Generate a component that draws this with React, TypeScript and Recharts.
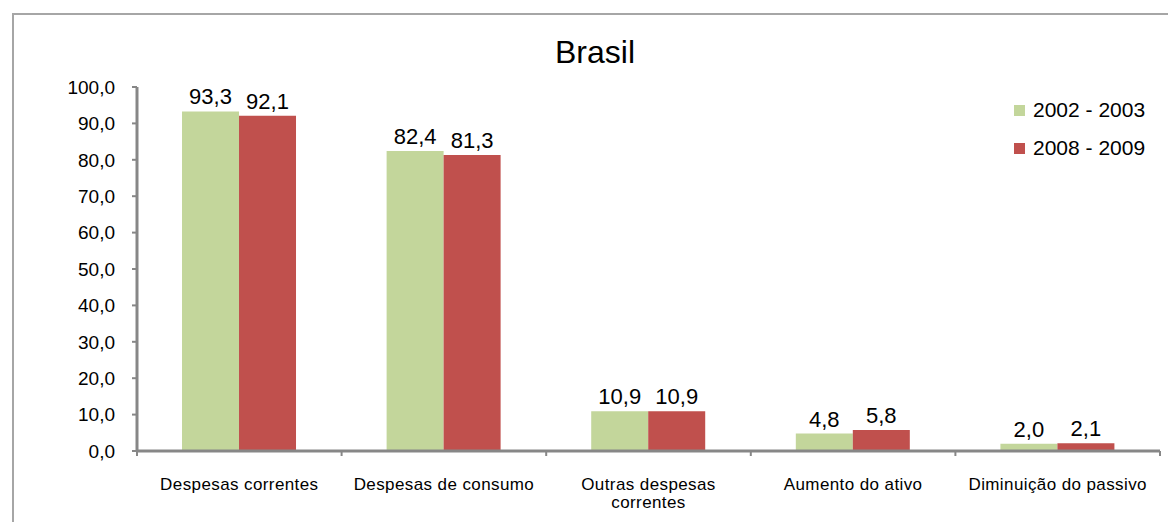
import React from "react";
import { BarChart, Bar, XAxis, YAxis, Legend, LabelList } from "recharts";

// categorias e valores (%)
const categories = [
  "Despesas correntes",
  "Despesas de consumo",
  "Outras despesas correntes",
  "Aumento do ativo",
  "Diminuição do passivo",
];
const values2002 = [93.3, 82.4, 10.9, 4.8, 2.0];
const values2008 = [92.1, 81.3, 10.9, 5.8, 2.1];
const seriesNames = ["2002 - 2003", "2008 - 2009"];
const yTicks = [0, 10, 20, 30, 40, 50, 60, 70, 80, 90, 100];

const colors = ["#C3D69B", "#C0504D"];
const axisColor = "#878787";
const font = "'Liberation Sans', Arial, sans-serif";
const TICK = 5;

const data = categories.map((name, i) => ({
  name,
  a: values2002[i],
  b: values2008[i],
}));

const fmt = (v: any) => Number(v).toFixed(1).replace(".", ",");

function wrap(label: string, max = 21) {
  const words = label.split(" ");
  const lines: string[] = [];
  let cur = "";
  words.forEach((w) => {
    const next = cur ? cur + " " + w : w;
    if (next.length > max && cur) {
      lines.push(cur);
      cur = w;
    } else cur = next;
  });
  if (cur) lines.push(cur);
  return lines;
}

// rótulo da categoria + marcas nos limites entre categorias (estilo Excel)
const CategoryTick = (props: any) => {
  const { x, y, payload, index, width } = props;
  const lines = wrap(payload.value);
  const band = width / categories.length;
  const axisY = y - TICK;
  const edges = [x - band / 2];
  if (index === categories.length - 1) edges.push(x + band / 2);
  return (
    <g>
      {edges.map((ex, i) => (
        <line
          key={i}
          x1={ex}
          x2={ex}
          y1={axisY}
          y2={axisY + TICK}
          stroke={axisColor}
          strokeWidth={2}
        />
      ))}
      <text
        x={x}
        y={y}
        textAnchor="middle"
        fill="#000"
        fontSize={17}
        fontFamily={font}
        letterSpacing={0.4}
      >
        {lines.map((l, i) => (
          <tspan key={i} x={x} dy={i === 0 ? 34 : 18}>
            {l}
          </tspan>
        ))}
      </text>
    </g>
  );
};

const LegendContent = () => (
  <div style={{ fontFamily: font, fontSize: 21, color: "#000" }}>
    {seriesNames.map((s, i) => (
      <div
        key={s}
        style={{ display: "flex", alignItems: "center", height: 38 }}
      >
        <span
          style={{
            width: 11,
            height: 11,
            background: colors[i],
            marginRight: 8,
            display: "inline-block",
          }}
        />
        {s}
      </div>
    ))}
  </div>
);

export default function App() {
  return (
    <div
      style={{
        position: "absolute",
        left: 0,
        top: 0,
        width: 1168,
        height: 522,
        overflow: "hidden",
        background: "#fff",
      }}
    >
      <div
        style={{
          position: "absolute",
          left: 12,
          top: 13,
          width: 1200,
          height: 600,
          borderLeft: "2px solid #a6a6a6",
          borderTop: "2px solid #a6a6a6",
        }}
      />
      <div
        style={{
          position: "absolute",
          left: 0,
          width: 1190,
          top: 34,
          textAlign: "center",
          fontFamily: font,
          fontSize: 32,
          color: "#000",
        }}
      >
        Brasil
      </div>
      <BarChart
        width={1168}
        height={522}
        data={data}
        margin={{ top: 87, right: 8, left: 0, bottom: 0 }}
        barCategoryGap="22%"
        barGap={0}
      >
        <YAxis
          width={137}
          domain={[0, 100]}
          ticks={yTicks}
          tickFormatter={fmt}
          tickSize={TICK}
          tickMargin={17}
          interval={0}
          axisLine={{ stroke: axisColor, strokeWidth: 3 }}
          tickLine={{ stroke: axisColor, strokeWidth: 2 }}
          tick={{ fill: "#000", fontSize: 19, fontFamily: font }}
        />
        <XAxis
          dataKey="name"
          height={71}
          interval={0}
          tickSize={TICK}
          tickMargin={0}
          axisLine={{ stroke: axisColor, strokeWidth: 3 }}
          tickLine={false}
          tick={<CategoryTick />}
        />
        <Legend
          layout="vertical"
          align="center"
          verticalAlign="middle"
          content={<LegendContent />}
          wrapperStyle={{ left: 1014, top: 91, width: 150, height: 80 }}
        />
        <Bar dataKey="a" name={seriesNames[0]} fill={colors[0]} isAnimationActive={false}>
          <LabelList
            dataKey="a"
            position="top"
            offset={7}
            formatter={fmt}
            fill="#000"
            fontSize={22}
            fontFamily={font}
          />
        </Bar>
        <Bar dataKey="b" name={seriesNames[1]} fill={colors[1]} isAnimationActive={false}>
          <LabelList
            dataKey="b"
            position="top"
            offset={7}
            formatter={fmt}
            fill="#000"
            fontSize={22}
            fontFamily={font}
          />
        </Bar>
      </BarChart>
    </div>
  );
}
